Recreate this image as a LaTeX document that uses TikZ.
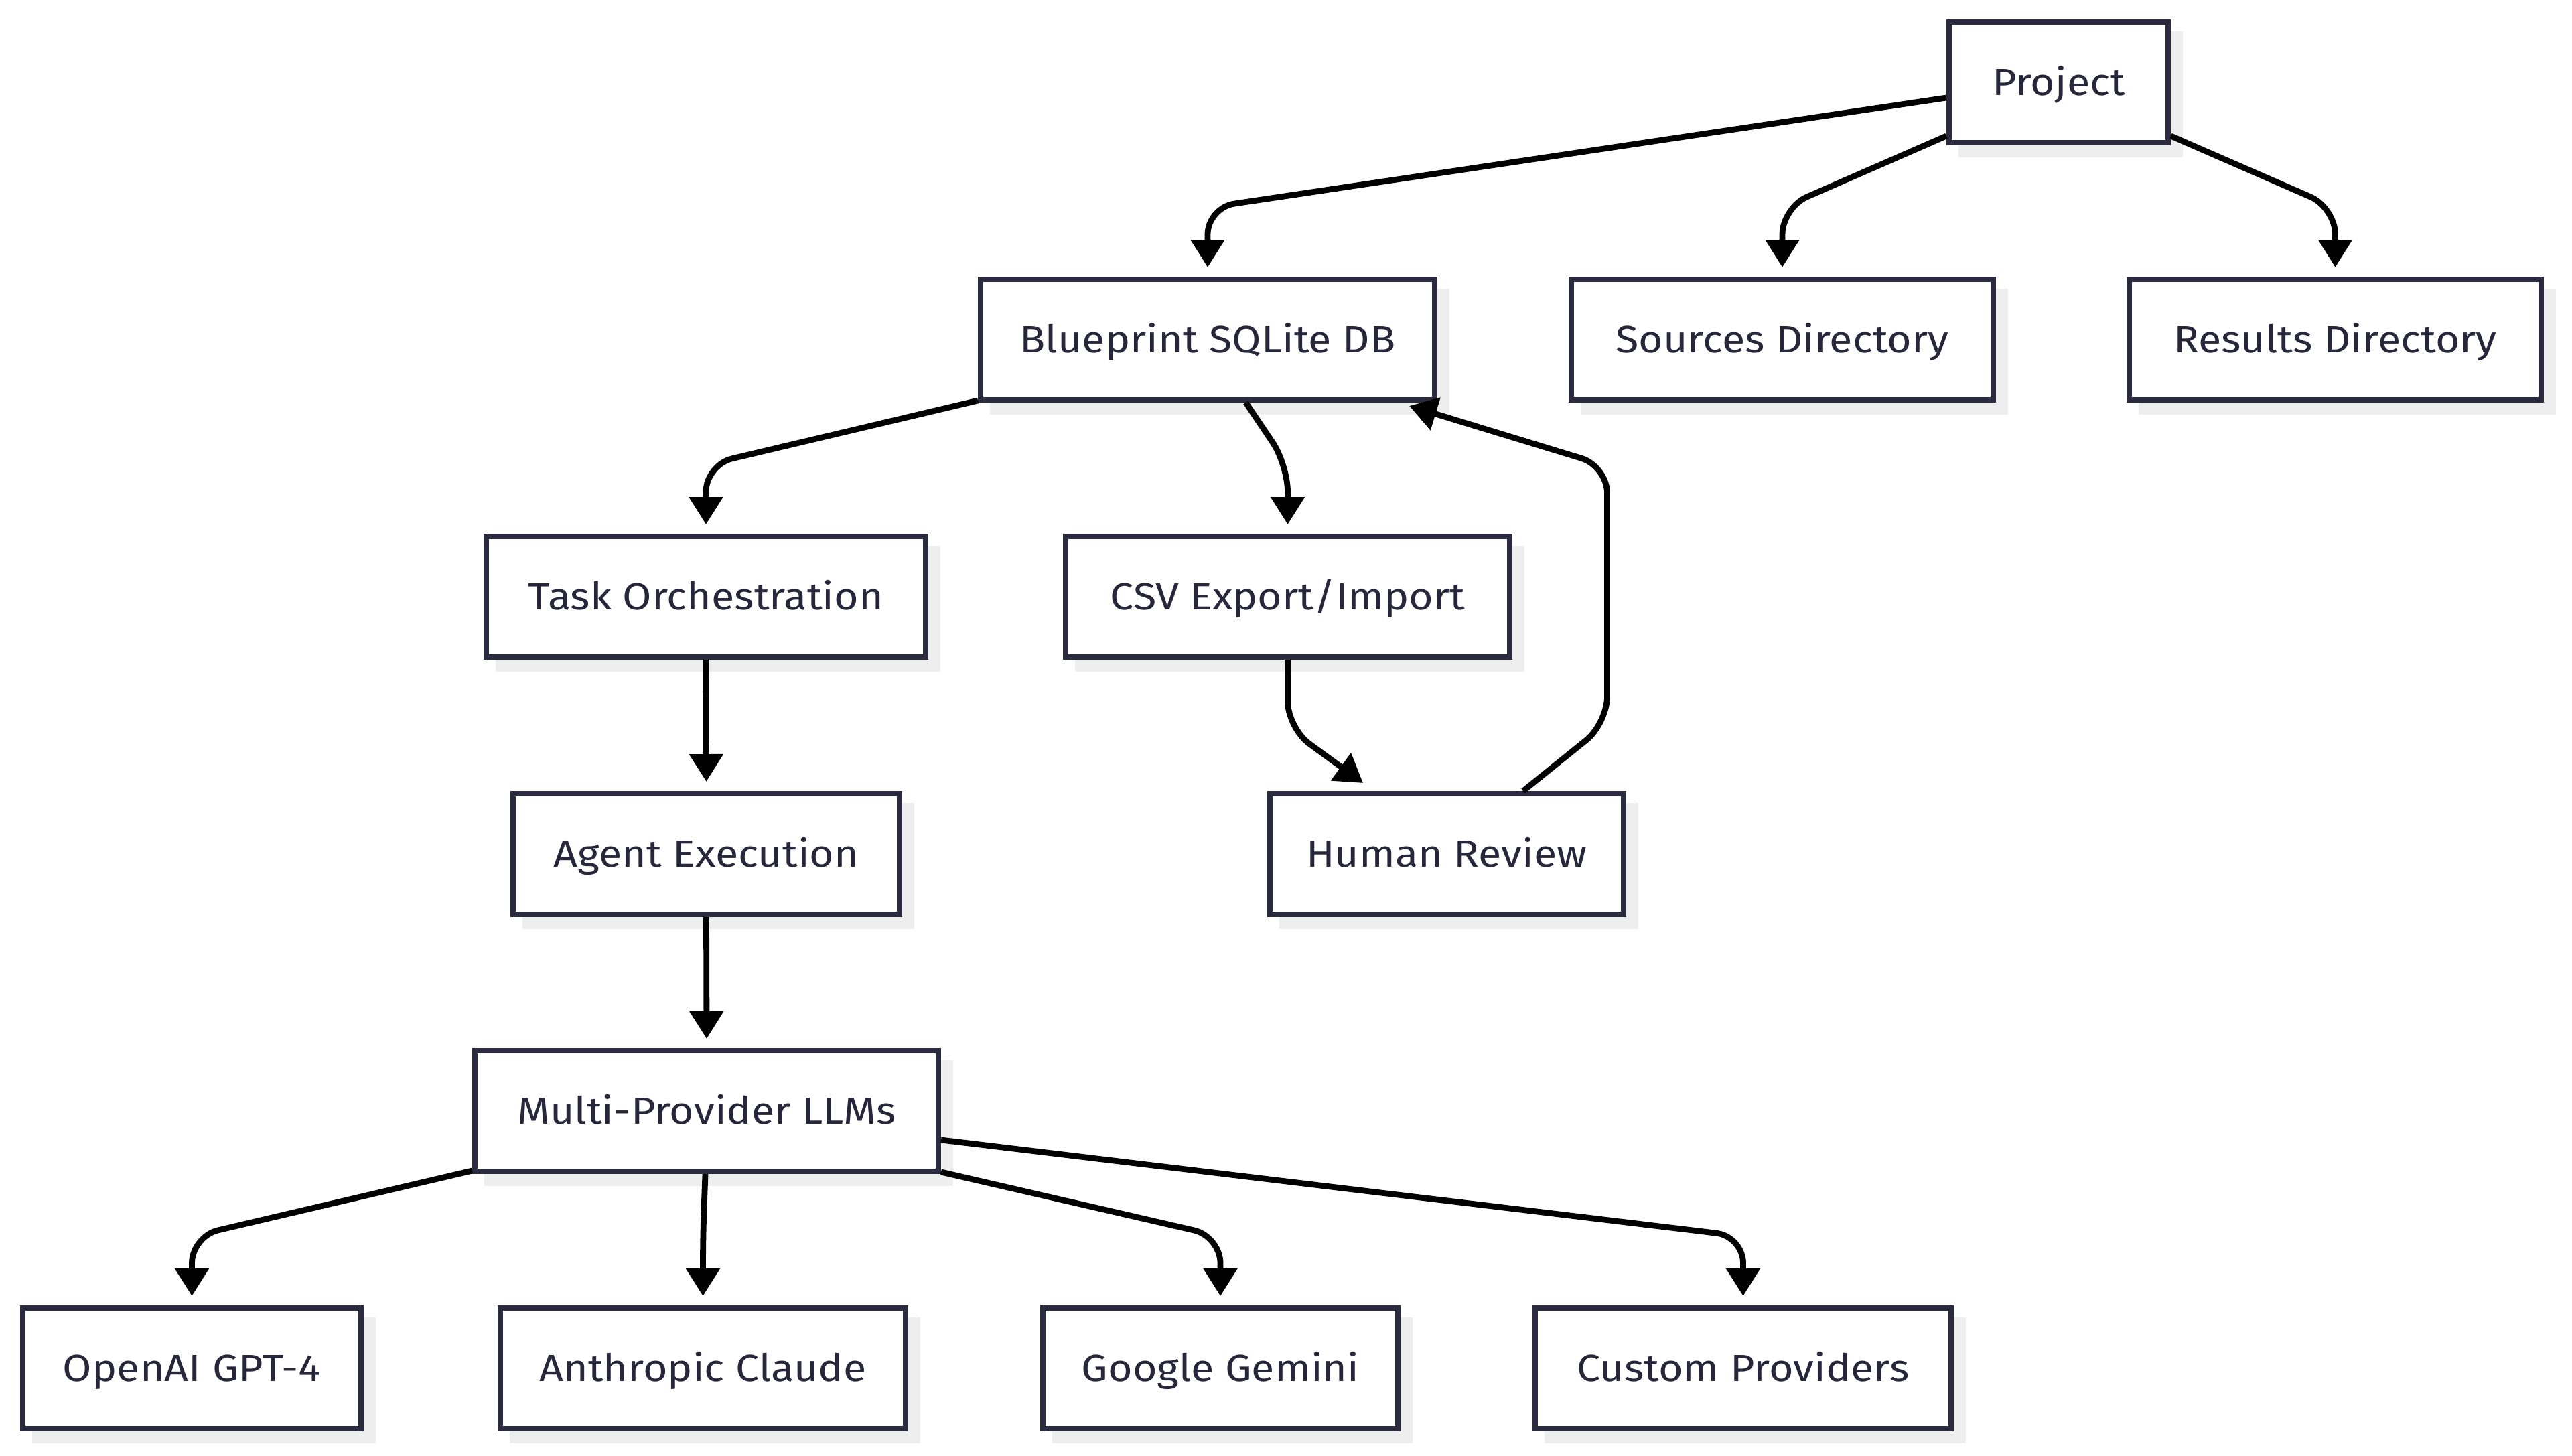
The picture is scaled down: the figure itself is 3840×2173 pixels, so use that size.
\documentclass[tikz,border=0pt]{standalone}
\usepackage{fontspec}
\newfontfamily\boxfont[FakeStretch=1.11]{Fira Sans}
\usetikzlibrary{arrows.meta,calc,shadows}
\definecolor{boxborder}{HTML}{2B2A3F}
\definecolor{boxtext}{HTML}{27263B}
\definecolor{shadowcol}{HTML}{EEEEEE}
\tikzset{
  box/.style={draw=boxborder, line width=1.9pt, fill=white, text=boxtext,
    minimum width={#1*0.25pt-1.9pt}, minimum height=45.1pt, inner sep=0pt,
    text height=9.75pt, text depth=0pt,
    font={\boxfont\fontsize{14.15}{16}\selectfont},
    copy shadow={shadow xshift=4.5pt, shadow yshift=-4.5pt, draw=shadowcol, fill=shadowcol}},
  conn/.style={line width=2.2pt, black, rounded corners=10pt,
    -{Triangle[length=10.25pt,width=12.25pt]}}
}
\begin{document}
\begin{tikzpicture}[x=0.25pt,y=-0.25pt]
\useasboundingbox (0,0) rectangle (3840,2173);
% nodes
\node[box=335] (proj) at (3073.5,123) {Project};
\node[box=686] (blue) at (1803,507) {Blueprint SQLite DB};
\node[box=638] (src) at (2661,507) {Sources Directory};
\node[box=623] (res) at (3486.5,507) {Results Directory};
\node[box=664] (task) at (1054,891) {Task Orchestration};
\node[box=671] (csv) at (1922.5,891) {CSV Export/Import};
\node[box=585] (agent) at (1054.5,1275) {Agent Execution};
\node[box=536] (human) at (2160,1275) {Human Review};
\node[box=700] (multi) at (1055,1659) {Multi-Provider LLMs};
\node[box=513] (openai) at (286.5,2043) {OpenAI GPT-4};
\node[box=613] (anth) at (1049.5,2043) {Anthropic Claude};
\node[box=538] (gem) at (1822,2043) {Google Gemini};
\node[box=629] (cust) at (2602.5,2043) {Custom Providers};
% connectors
\draw[conn] ($(proj.west)+(0,23)$) -- ($(blue.north)+(0,-103)$) -- ($(blue.north)+(0,-14)$);
\draw[conn] ($(proj.south west)+(0,-14)$) -- ($(src.north)+(0,-103)$) -- ($(src.north)+(0,-14)$);
\draw[conn] ($(proj.south east)+(0,-14)$) -- ($(res.north)+(0,-103)$) -- ($(res.north)+(0,-14)$);
\draw[conn] ($(blue.south west)+(0,-3)$) -- ($(task.north)+(0,-103)$) -- ($(task.north)+(0,-14)$);
\draw[conn] ($(blue.south)+(57,0)$) -- ($(csv.north)+(0,-103)$) -- ($(csv.north)+(0,-14)$);
\draw[conn] (csv.south) -- ($(csv.south)+(0,102)$) -- ($(human.north)+(-125,-12)$);
\draw[conn] ($(human.north)+(114,0)$) -- ($(human.north east)+(-28.5,-101)$) -- ($(human.north east)+(-28.5,-485)$) -- ($(blue.south east)+(-42,5)$);
\draw[conn] (task.south) -- ($(agent.north)+(0,-14)$);
\draw[conn] (agent.south) -- ($(multi.north)+(0,-14)$);
\draw[conn] ($(multi.south west)+(0,-5)$) -- ($(openai.north)+(0,-103)$) -- ($(openai.north)+(0,-14)$);
\draw[conn] ($(multi.south)+(-2,0)$) -- ($(anth.north)+(0,-103)$) -- ($(anth.north)+(0,-14)$);
\draw[conn] ($(multi.south east)+(0,-3)$) -- ($(gem.north)+(0,-103)$) -- ($(gem.north)+(0,-14)$);
\draw[conn] ($(multi.east)+(0,43)$) -- ($(cust.north)+(0,-103)$) -- ($(cust.north)+(0,-14)$);
\end{tikzpicture}
\end{document}
